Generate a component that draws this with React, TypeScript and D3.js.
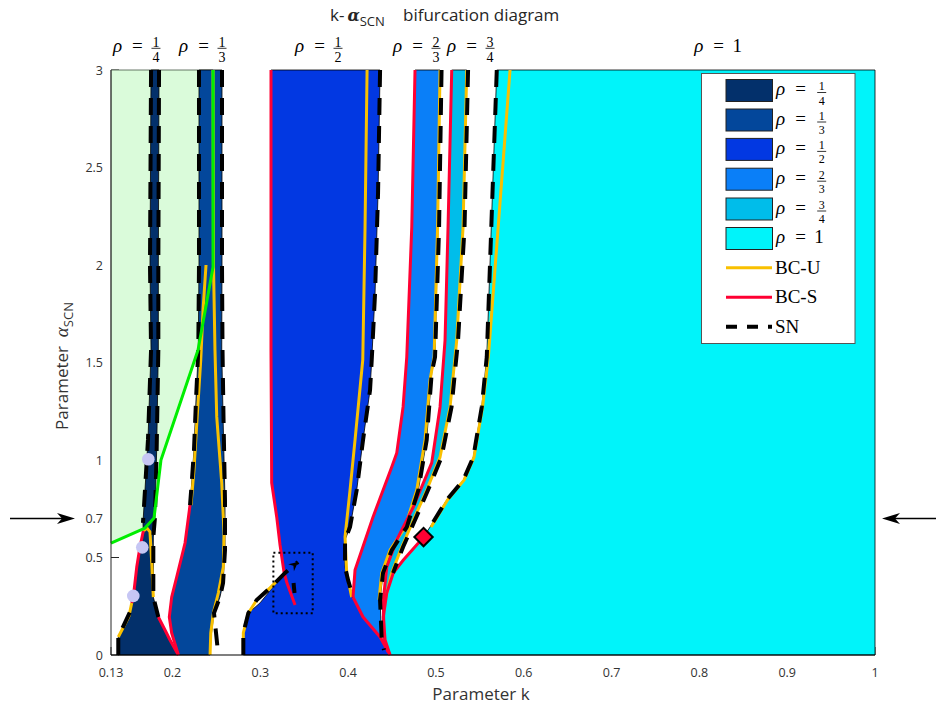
import React from "react";
import * as d3 from "d3";

type P = [number, number];

// ---------- axis ticks ----------
const xTicks = [0.13, 0.2, 0.3, 0.4, 0.5, 0.6, 0.7, 0.8, 0.9, 1];
const xTickLabels = ["0.13", "0.2", "0.3", "0.4", "0.5", "0.6", "0.7", "0.8", "0.9", "1"];
const yTicks = [0, 0.5, 0.7, 1, 1.5, 2, 2.5, 3];
const yTickLabels = ["0", "0.5", "0.7", "1", "1.5", "2", "2.5", "3"];

// ---------- rotation-number regions (k, alpha) ----------
const rhoNames = ["1/4", "1/3", "1/2", "2/3", "3/4", "1"];
const rhoLabelK = [0.159, 0.2342, 0.3663, 0.4779, 0.5394, 0.8208];

const rho14Left: P[] = [[0.1756, 3], [0.1744, 2], [0.1756, 1.564], [0.1721, 1.103], [0.1687, 0.846], [0.1664, 0.677], [0.1668, 0.636], [0.163, 0.554], [0.1593, 0.451], [0.1554, 0.297], [0.1536, 0.267], [0.1494, 0.195], [0.1437, 0.144], [0.1383, 0.092], [0.1383, 0]];
const rho14Right: P[] = [[0.1847, 3], [0.1839, 2], [0.1839, 1.564], [0.182, 1.051], [0.1801, 0.708], [0.1782, 0.605], [0.1782, 0.297], [0.1839, 0.195], [0.1915, 0.128], [0.1972, 0.077], [0.2067, 0]];

const rho13Left: P[] = [[0.2302, 3], [0.2302, 2], [0.2294, 1.564], [0.2268, 1.308], [0.2245, 1.051], [0.2219, 0.882], [0.22, 0.769], [0.2143, 0.574], [0.2048, 0.4], [0.1991, 0.297], [0.1964, 0.195], [0.1991, 0.113], [0.2067, 0]];
const rho13Right: P[] = [[0.2564, 3], [0.2564, 2], [0.2561, 1.564], [0.2576, 1.221], [0.2598, 0.795], [0.2598, 0.538], [0.2576, 0.369], [0.2541, 0.297], [0.2473, 0.215], [0.2439, 0.092], [0.2428, 0]];

const rho12Left: P[] = [[0.3122, 3], [0.3122, 1.564], [0.313, 0.882], [0.3187, 0.708], [0.3225, 0.564], [0.327, 0.426], [0.3145, 0.349], [0.2997, 0.267], [0.2864, 0.215], [0.2807, 0.113], [0.2807, 0]];
const rho12Right: P[] = [[0.4364, 3], [0.4341, 2.369], [0.4307, 1.856], [0.4269, 1.513], [0.425, 1.359], [0.417, 1.103], [0.4098, 0.846], [0.4022, 0.656], [0.3965, 0.59], [0.3965, 0.451], [0.3999, 0.385], [0.4056, 0.297], [0.417, 0.195], [0.4364, 0.092], [0.4478, 0]];

const rho23Left: P[] = [[0.4762, 3], [0.4725, 2.195], [0.4668, 1.528], [0.4626, 1.272], [0.4554, 1.036], [0.4497, 0.964], [0.4284, 0.708], [0.4079, 0.436], [0.4056, 0.297], [0.417, 0.195], [0.4364, 0.092], [0.4455, 0.015]];
const rho23Right: P[] = [[0.5047, 3], [0.5024, 2.195], [0.499, 1.528], [0.4952, 1.446], [0.4895, 1.103], [0.48, 0.846], [0.4668, 0.656], [0.4497, 0.538], [0.4398, 0.421], [0.4364, 0.282], [0.4383, 0.077], [0.4455, 0.015]];

const rho34Left: P[] = [[0.518, 3], [0.5138, 2.195], [0.5104, 1.615], [0.5047, 1.272], [0.4952, 0.985], [0.4743, 0.759], [0.4554, 0.59], [0.444, 0.451], [0.4401, 0.282], [0.4409, 0.077], [0.4455, 0.015]];
const rho34Right: P[] = [[0.5351, 3], [0.5309, 2.195], [0.5237, 1.615], [0.5161, 1.272], [0.5047, 1.015], [0.4895, 0.846], [0.4743, 0.692], [0.4611, 0.554], [0.4497, 0.421], [0.4421, 0.282], [0.4421, 0.077], [0.4455, 0.015]];

const rho1Left: P[] = [[0.5693, 3], [0.5579, 1.528], [0.5522, 1.272], [0.5426, 1.015], [0.5312, 0.897], [0.5123, 0.795], [0.4933, 0.656], [0.4857, 0.605], [0.48, 0.574], [0.4629, 0.487], [0.4515, 0.421], [0.444, 0.318], [0.4401, 0.195], [0.4421, 0.077], [0.4478, 0]];
const rho1Right: P[] = [[1, 3], [1, 0]];

// light green area bounded by the green curve
const greenCurve: P[] = [[0.13, 0.574], [0.1687, 0.651], [0.179, 0.703], [0.1869, 1.0], [0.2291, 1.564], [0.2462, 1.99], [0.2462, 3]];

// ---------- bifurcation curves ----------
const bcuCurves: P[][] = [
  [[0.1383, 0.092], [0.1448, 0.149], [0.1505, 0.2], [0.1536, 0.267]],
  [[0.1668, 0.636], [0.171, 0.651], [0.1744, 0.631], [0.1764, 0.472], [0.1782, 0.297]],
  [[0.2382, 2], [0.2348, 1.769], [0.2322, 1.513], [0.2279, 1.205], [0.2245, 0.949], [0.2211, 0.769]],
  [[0.2462, 3], [0.2467, 2], [0.2484, 1.564], [0.2504, 1.221], [0.2561, 0.882], [0.2587, 0.626], [0.2579, 0.451], [0.2522, 0.318], [0.2465, 0.215], [0.2436, 0.113], [0.2428, 0]],
  [[0.2807, 0.026], [0.2807, 0.113], [0.2864, 0.215], [0.2959, 0.282], [0.3111, 0.344], [0.3282, 0.421]],
  [[0.4216, 3], [0.4193, 2.195], [0.4167, 1.513], [0.4079, 1.103], [0.4022, 0.846], [0.3965, 0.605], [0.3984, 0.421], [0.4041, 0.297]],
  [[0.5047, 3], [0.5019, 2.195], [0.4979, 1.528], [0.4933, 1.41], [0.4876, 1.103], [0.4782, 0.846], [0.4648, 0.656], [0.4478, 0.538], [0.4383, 0.421], [0.4352, 0.282]],
  [[0.5351, 3], [0.5309, 2.195], [0.5237, 1.615], [0.5161, 1.272], [0.5047, 1.015], [0.4895, 0.846], [0.4743, 0.692], [0.4611, 0.554], [0.4497, 0.421], [0.4421, 0.282]],
  [[0.5844, 3], [0.5597, 1.528], [0.5531, 1.272], [0.5434, 1.015], [0.532, 0.897], [0.5132, 0.795], [0.4945, 0.656]],
];

const bcsCurves: P[][] = [
  [[0.1536, 0.267], [0.1554, 0.297], [0.1593, 0.451], [0.163, 0.554], [0.1668, 0.636]],
  [[0.1839, 0.195], [0.1915, 0.128], [0.1972, 0.077], [0.2067, 0]],
  [[0.22, 0.769], [0.2143, 0.574], [0.2048, 0.4], [0.1991, 0.297], [0.1964, 0.195], [0.1991, 0.113], [0.2067, 0]],
  [[0.3122, 3], [0.3122, 1.564], [0.313, 0.882], [0.3187, 0.708], [0.3225, 0.564], [0.327, 0.426], [0.3304, 0.369], [0.3396, 0.256]],
  [[0.4056, 0.297], [0.417, 0.195], [0.4364, 0.092], [0.4478, 0]],
  [[0.4762, 3], [0.4725, 2.195], [0.4668, 1.528], [0.4626, 1.272], [0.4554, 1.036], [0.4497, 0.964], [0.4284, 0.708], [0.4079, 0.436], [0.4056, 0.297]],
  [[0.518, 3], [0.5138, 2.195], [0.5104, 1.615], [0.5047, 1.272], [0.4952, 0.985], [0.4743, 0.759], [0.4554, 0.59], [0.444, 0.451], [0.4401, 0.282], [0.4409, 0.077], [0.4455, 0.015]],
  [[0.4857, 0.605], [0.48, 0.574], [0.4629, 0.487], [0.4515, 0.421], [0.444, 0.318], [0.4401, 0.195], [0.4421, 0.077], [0.4478, 0]],
];

const snCurves: P[][] = [
  [[0.1756, 3], [0.1744, 2], [0.1756, 1.564], [0.1721, 1.103], [0.1687, 0.846], [0.1664, 0.677]],
  [[0.1847, 3], [0.1839, 2], [0.1839, 1.564], [0.182, 1.051], [0.1801, 0.708], [0.1782, 0.605], [0.1782, 0.297], [0.1839, 0.195]],
  [[0.1383, 0], [0.1383, 0.092], [0.1437, 0.144], [0.1516, 0.221]],
  [[0.2302, 3], [0.2302, 2], [0.2294, 1.564], [0.2268, 1.308], [0.2245, 1.051], [0.2219, 0.882], [0.22, 0.769]],
  [[0.2564, 3], [0.2564, 2], [0.257, 1.564], [0.2581, 1.221], [0.2598, 0.795], [0.2598, 0.538], [0.2576, 0.369], [0.2541, 0.297], [0.2473, 0.215], [0.2496, 0.113], [0.2522, 0]],
  [[0.2807, 0], [0.2807, 0.113], [0.2864, 0.215], [0.2959, 0.282], [0.3111, 0.344], [0.3282, 0.421], [0.3373, 0.456], [0.343, 0.477]],
  [[0.3379, 0.369], [0.339, 0.318]],
  [[0.4364, 3], [0.4341, 2.369], [0.4307, 1.856], [0.4269, 1.513], [0.425, 1.359], [0.417, 1.103], [0.4098, 0.846], [0.4022, 0.656], [0.3965, 0.59], [0.3965, 0.451], [0.3999, 0.385], [0.4056, 0.297]],
  [[0.5064, 3], [0.5036, 2.195], [0.499, 1.528], [0.4952, 1.446], [0.4895, 1.103], [0.48, 0.846], [0.4668, 0.656], [0.4497, 0.538], [0.4398, 0.421], [0.4364, 0.282], [0.4383, 0.077], [0.4409, 0.026]],
  [[0.5366, 3], [0.5326, 2.195], [0.5252, 1.615], [0.5178, 1.272], [0.5064, 1.015], [0.491, 0.846], [0.4762, 0.692], [0.4626, 0.554], [0.4512, 0.421]],
  [[0.5693, 3], [0.5579, 1.528], [0.5522, 1.272], [0.5426, 1.015], [0.5312, 0.897], [0.5123, 0.795], [0.4933, 0.656], [0.4857, 0.605]],
];

const specialPoints: P[] = [[0.1725, 1.004], [0.1656, 0.552], [0.1554, 0.303]];
const codim2Point: P = [0.4859, 0.605];
const zoomBoxK = [0.3149, 0.3597];
const zoomBoxA = [0.214, 0.525];
const markedAlpha = 0.7;

// ---------- styles ----------
const FILLS = ["#03306b", "#03479b", "#0238e2", "#0a7ff8", "#00bdea", "#00f4fa"];
const YELLOW = "#f9c000";
const RED = "#ff0033";
const GREEN = "#00ee00";
const LIGHTGREEN = "#dafbda";
const SANS = "'Open Sans', 'Noto Sans', sans-serif";
const SERIF = "'Liberation Serif', 'DejaVu Serif', serif";
const DASH = "17 11";

function RhoText({ cx, yb, name, rhoFs, fracFs, rhoDx, eqDx, fracDx, numDy, barDy, denDy }: any) {
  const parts = name.split("/");
  return (
    <g fontFamily={SERIF} fill="#000">
      <text x={cx + rhoDx} y={yb} fontSize={rhoFs} fontStyle="italic">ρ</text>
      <text x={cx + eqDx} y={yb} fontSize={rhoFs} textAnchor="middle">=</text>
      {parts.length === 1 ? (
        <text x={cx + fracDx} y={yb} fontSize={rhoFs} textAnchor="middle">{parts[0]}</text>
      ) : (
        <g>
          <text x={cx + fracDx} y={yb + numDy} fontSize={fracFs} textAnchor="middle">{parts[0]}</text>
          <line x1={cx + fracDx - 4.5} x2={cx + fracDx + 4.5} y1={yb + barDy} y2={yb + barDy} stroke="#000" strokeWidth={0.8} />
          <text x={cx + fracDx} y={yb + denDy} fontSize={fracFs} textAnchor="middle">{parts[1]}</text>
        </g>
      )}
    </g>
  );
}

export default function App() {
  const W = 936, H = 707;
  const x = d3.scaleLinear().domain([0.13, 1]).range([111, 875]);
  const y = d3.scaleLinear().domain([0, 3]).range([655, 70]);
  const line = d3.line<P>().x((d) => x(d[0])).y((d) => y(d[1]));
  const poly = (l: P[], r: P[]) => line([...l, ...r.slice().reverse()]) + "Z";

  const regions: [P[], P[]][] = [
    [rho14Left, rho14Right],
    [rho13Left, rho13Right],
    [rho12Left, rho12Right],
    [rho23Left, rho23Right],
    [rho34Left, rho34Right],
    [rho1Left, rho1Right],
  ];

  const greenPoly: P[] = [[0.13, 3], ...greenCurve.slice().reverse()];

  // small arrow head at end of the SN curve inside the box
  const snArrow = snCurves[5];
  const a1 = snArrow[snArrow.length - 2], a2 = snArrow[snArrow.length - 1];
  const ang = Math.atan2(y(a2[1]) - y(a1[1]), x(a2[0]) - x(a1[0])) * 180 / Math.PI;

  const yMark = y(markedAlpha);
  const legendRowsY = [90.5, 120, 149.4, 179.2, 209, 238.5];
  const legendLinesY = [267.7, 297.3, 326.7];

  return (
    <div style={{ position: "absolute", left: 0, top: 0 }}>
      <svg width={W} height={H} style={{ display: "block", background: "#fff" }}>
        {/* ticks (under fills) */}
        {yTicks.map((t) => (
          <line key={"yt" + t} x1={x(0.13)} x2={x(0.13) + 8} y1={y(t)} y2={y(t)} stroke="#262626" strokeWidth={1} />
        ))}
        {xTicks.map((t) => (
          <line key={"xt" + t} x1={x(t)} x2={x(t)} y1={y(0)} y2={y(0) - 8} stroke="#262626" strokeWidth={1} />
        ))}

        {/* light green area */}
        <path d={line(greenPoly) + "Z"} fill={LIGHTGREEN} stroke="#445544" strokeWidth={0.8} />

        {/* regions */}
        {regions.map(([l, r], i) => (
          <path key={"reg" + i} d={poly(l, r)} fill={FILLS[i]} stroke="#000" strokeWidth={0.8} />
        ))}

        {/* curves */}
        {bcuCurves.map((c, i) => (
          <path key={"u" + i} d={line(c)!} fill="none" stroke={YELLOW} strokeWidth={3} strokeLinejoin="round" />
        ))}
        {bcsCurves.map((c, i) => (
          <path key={"s" + i} d={line(c)!} fill="none" stroke={RED} strokeWidth={3} strokeLinejoin="round" />
        ))}
        {snCurves.map((c, i) => (
          <path key={"n" + i} d={line(c)!} fill="none" stroke="#000" strokeWidth={4} strokeDasharray={DASH} />
        ))}
        <path
          d="M0,0 L-9,-4.5 L-6,0 L-9,4.5 Z"
          transform={`translate(${x(a2[0])},${y(a2[1])}) rotate(${ang})`}
          fill="#000"
        />
        <path d={line(greenCurve)!} fill="none" stroke={GREEN} strokeWidth={3} strokeLinejoin="round" />

        {/* zoom box */}
        <rect
          x={x(zoomBoxK[0])}
          y={y(zoomBoxA[1])}
          width={x(zoomBoxK[1]) - x(zoomBoxK[0])}
          height={y(zoomBoxA[0]) - y(zoomBoxA[1])}
          fill="none"
          stroke="#000"
          strokeWidth={2}
          strokeDasharray="2 3"
        />

        {/* special points */}
        {specialPoints.map((p, i) => (
          <circle key={"pt" + i} cx={x(p[0])} cy={y(p[1])} r={6.3} fill="#c6c6f4" />
        ))}
        <rect
          x={x(codim2Point[0]) - 6.5}
          y={y(codim2Point[1]) - 6.5}
          width={13}
          height={13}
          transform={`rotate(45 ${x(codim2Point[0])} ${y(codim2Point[1])})`}
          fill={RED}
          stroke="#000"
          strokeWidth={2}
        />

        {/* axes */}
        <line x1={x(0.13)} x2={x(0.13)} y1={y(0)} y2={y(3)} stroke="#262626" strokeWidth={1} />
        <line x1={x(0.13)} x2={x(1)} y1={y(0)} y2={y(0)} stroke="#000" strokeWidth={1.2} />
        {yTicks.map((t, i) => (
          <text key={"yl" + t} x={x(0.13) - 8} y={y(t) + 4.5} fontSize={12.5} fontFamily={SANS} fill="#333" textAnchor="end">
            {yTickLabels[i]}
          </text>
        ))}
        {xTicks.map((t, i) => (
          <text key={"xl" + t} x={x(t)} y={y(0) + 22} fontSize={12.5} fontFamily={SANS} fill="#333" textAnchor="middle">
            {xTickLabels[i]}
          </text>
        ))}
        <text x={481} y={700} fontSize={17} fontFamily={SANS} fill="#333" textAnchor="middle">Parameter k</text>
        <text transform="translate(68,366) rotate(-90)" fontSize={17} fontFamily={SANS} fill="#333" textAnchor="middle">
          Parameter{"\u00a0\u00a0"}
          <tspan fontFamily={SERIF} fontStyle="italic" fontSize={19}>α</tspan>
          <tspan dy={5} fontSize={13}>SCN</tspan>
        </text>

        {/* title */}
        <text x={330} y={21} fontSize={17} fontFamily={SANS} fill="#262626">
          k-
          <tspan dx={3} fontFamily="'DejaVu Serif', serif" fontWeight="bold" fontStyle="italic" fontSize={16}>α</tspan>
          <tspan dy={5} fontSize={13}>SCN</tspan>
          <tspan x={403} dy={-5}>bifurcation diagram</tspan>
        </text>

        {/* top region labels */}
        {rhoNames.map((n, i) => (
          <RhoText
            key={"tl" + n}
            cx={x(rhoLabelK[i])}
            yb={52}
            name={n}
            rhoFs={19}
            fracFs={14}
            rhoDx={-23.5}
            eqDx={1}
            fracDx={19.5}
            numDy={-5.5}
            barDy={-3.7}
            denDy={9.5}
          />
        ))}

        {/* side arrows */}
        <line x1={10} x2={66} y1={yMark} y2={yMark} stroke="#000" strokeWidth={1.3} />
        <path d={`M75,${yMark} L57,${yMark - 5.5} L62,${yMark} L57,${yMark + 5.5} Z`} fill="#000" />
        <line x1={936} x2={892} y1={yMark} y2={yMark} stroke="#000" strokeWidth={1.3} />
        <path d={`M882,${yMark} L900,${yMark - 5.5} L895,${yMark} L900,${yMark + 5.5} Z`} fill="#000" />

        {/* legend */}
        <rect x={701.5} y={73.5} width={153.5} height={270} fill="#fff" stroke="#555" strokeWidth={1} />
        {rhoNames.map((n, i) => (
          <g key={"lg" + n}>
            <rect x={726} y={legendRowsY[i] - 11} width={46.5} height={22} fill={FILLS[i]} stroke="#222" strokeWidth={1} />
            <RhoText
              cx={776}
              yb={legendRowsY[i] + 4.5}
              name={n}
              rhoFs={19}
              fracFs={12}
              rhoDx={0}
              eqDx={24.5}
              fracDx={n === "1" ? 43 : 45.7}
              numDy={-5}
              barDy={-2.5}
              denDy={9.5}
            />
          </g>
        ))}
        <line x1={726} x2={772} y1={legendLinesY[0]} y2={legendLinesY[0]} stroke={YELLOW} strokeWidth={3} />
        <line x1={726} x2={772} y1={legendLinesY[1]} y2={legendLinesY[1]} stroke={RED} strokeWidth={3} />
        <line x1={726} x2={772} y1={legendLinesY[2]} y2={legendLinesY[2]} stroke="#000" strokeWidth={4} strokeDasharray="11 10" />
        {["BC-U", "BC-S", "SN"].map((t, i) => (
          <text key={t} x={775} y={legendLinesY[i] + 6} fontSize={19} fontFamily={SERIF} fill="#000">{t}</text>
        ))}
      </svg>
    </div>
  );
}
